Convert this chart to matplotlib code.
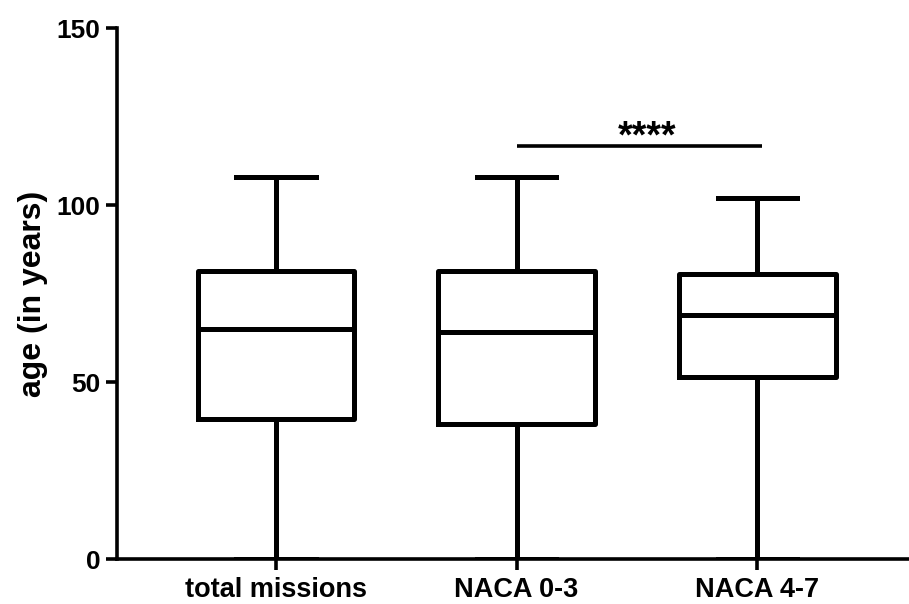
import matplotlib.pyplot as plt

plt.rcParams['font.family'] = ['Liberation Sans', 'DejaVu Sans']
plt.rcParams['font.weight'] = 'bold'

groups = ['total missions', 'NACA 0-3', 'NACA 4-7']
mins = [0, 0, 0]
q1s = [39.5, 38, 51.5]
medians = [65, 64, 69]
q3s = [81.5, 81.5, 80.5]
maxs = [108, 108, 102]

stats = []
for g, lo, a, m, b, hi in zip(groups, mins, q1s, medians, q3s, maxs):
    stats.append({'label': g, 'whislo': lo, 'q1': a, 'med': m, 'q3': b, 'whishi': hi})

fig = plt.figure(figsize=(9.09, 6.04), dpi=100)
ax = fig.add_axes([0.1287, 0.0745, 0.8713, 0.8791])

lw = 3.6
ax.bxp(stats, positions=[0, 1, 2], widths=0.65, capwidths=0.33, showfliers=False,
       boxprops=dict(linewidth=lw, color='black'),
       medianprops=dict(linewidth=lw, color='black'),
       whiskerprops=dict(linewidth=lw, color='black'),
       capprops=dict(linewidth=lw, color='black'))

# significance bar between NACA groups
ax.plot([1, 2.02], [116.6, 116.6], color='black', linewidth=2.6, solid_capstyle='butt')
ax.text(1.54, 119.0, '****', ha='center', va='center', fontsize=27, fontweight='bold')

ax.set_xlim(-0.66, 2.63)
ax.set_ylim(0, 150)
ax.set_yticks([0, 50, 100, 150])
ax.set_xticks([0, 1, 2])
ax.set_xticklabels(groups)
ax.set_ylabel('age (in years)', fontsize=23, fontweight='bold', labelpad=6)

ax.spines['top'].set_visible(False)
ax.spines['right'].set_visible(False)
for s in ['left', 'bottom']:
    ax.spines[s].set_linewidth(2.6)
ax.tick_params(axis='both', width=2.6, length=8, labelsize=19)
ax.tick_params(axis='x', labelsize=19.5, pad=5)
ax.tick_params(axis='y', pad=4)

plt.savefig('out.png', dpi=100)
